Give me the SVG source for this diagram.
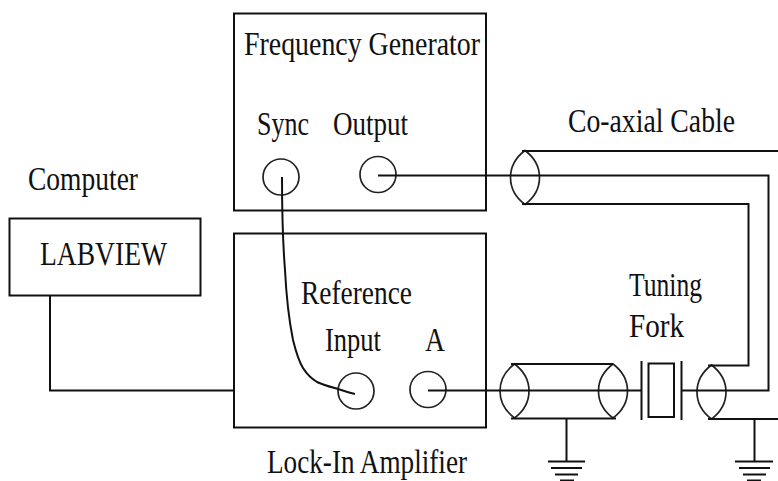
<svg xmlns="http://www.w3.org/2000/svg" width="778" height="481" viewBox="0 0 778 481">
<style>
.b{fill:none;stroke:#111;stroke-width:2}
.w{fill:none;stroke:#111;stroke-width:2}
.c{fill:none;stroke:#222;stroke-width:1.7}
text{font-family:"Liberation Serif","Times New Roman",serif;font-size:33px;fill:#111}
</style>
<defs>
<path id="lens" class="c" d="M0 -27C-8 -21 -14.500 -12 -14.500 0C-14.500 12 -8 21 0 27C8 21 14.500 12 14.500 0C14.500 -12 8 -21 0 -27Z"/>
</defs>
<rect width="778" height="481" fill="#fff"/>
<g id="frequency-generator">
<rect class="b" x="234" y="13.500" width="252" height="197"/>
<text x="244" y="55" textLength="236" lengthAdjust="spacingAndGlyphs">Frequency Generator</text>
<text x="257" y="135" textLength="52" lengthAdjust="spacingAndGlyphs">Sync</text>
<text x="333" y="135" textLength="75" lengthAdjust="spacingAndGlyphs">Output</text>
<circle class="c" cx="281" cy="177" r="18"/>
<circle class="c" cx="378" cy="174.500" r="18"/>
</g>
<g id="lock-in-amplifier">
<rect class="b" x="234" y="233.500" width="252" height="194"/>
<text x="301" y="304" textLength="111" lengthAdjust="spacingAndGlyphs">Reference</text>
<text x="325" y="351" textLength="56" lengthAdjust="spacingAndGlyphs">Input</text>
<text x="425" y="351" textLength="20" lengthAdjust="spacingAndGlyphs">A</text>
<circle class="c" cx="356" cy="391" r="18"/>
<circle class="c" cx="428" cy="389.500" r="18"/>
<text x="267" y="473" textLength="200" lengthAdjust="spacingAndGlyphs">Lock-In Amplifier</text>
</g>
<g id="computer">
<text x="28" y="190" textLength="110" lengthAdjust="spacingAndGlyphs">Computer</text>
<rect class="b" x="9.500" y="218.500" width="191" height="77"/>
<text x="40" y="265" textLength="127" lengthAdjust="spacingAndGlyphs">LABVIEW</text>
</g>
<g id="coaxial-cable-top">
<text x="568" y="132" textLength="167" lengthAdjust="spacingAndGlyphs">Co-axial Cable</text>
<use href="#lens" x="525" y="177.500"/>
</g>
<g id="coaxial-cable-left">
<use href="#lens" x="514.500" y="391"/>
<use href="#lens" x="613" y="391"/>
</g>
<g id="tuning-fork">
<text x="629" y="296" textLength="73" lengthAdjust="spacingAndGlyphs">Tuning</text>
<text x="629" y="337" textLength="55" lengthAdjust="spacingAndGlyphs">Fork</text>
<rect class="b" x="648.500" y="363.500" width="25.500" height="53.500"/>
<path class="b" d="M641.500 361V420M681.500 361V420"/>
</g>
<g id="coaxial-cable-right">
<use href="#lens" x="711.500" y="392"/>
</g>
<g id="ground-left">
<path class="w" d="M566.500 419V461M548 461.500H585M551 468H582M555 474.500H578M560 480.500H574"/>
</g>
<g id="ground-right">
<path class="w" d="M754.500 419V461M735 461.500H773M739 468H770M743 474.500H766M747 480.500H761"/>
</g>
<g id="connectors">
<path class="w" d="M378 175.500H768.500V390.500H681.500"/>
<path class="w" d="M522 151H778M522 204H748.500V365.500H708"/>
<path class="w" d="M428 390.500H641"/>
<path class="w" d="M511 364H613M511 418.500H616"/>
<path class="w" d="M708 419H778"/>
<path class="w" d="M50 295V390.500H234"/>
<path class="w" d="M282 177C282 215 283 245 285 270C286 290 288 315 293 340C296 352 298 360 303 368C308 376 312 379 317 382C323 385 331 387 338 389C344 391 350 393 355 394"/>
</g>
</svg>
